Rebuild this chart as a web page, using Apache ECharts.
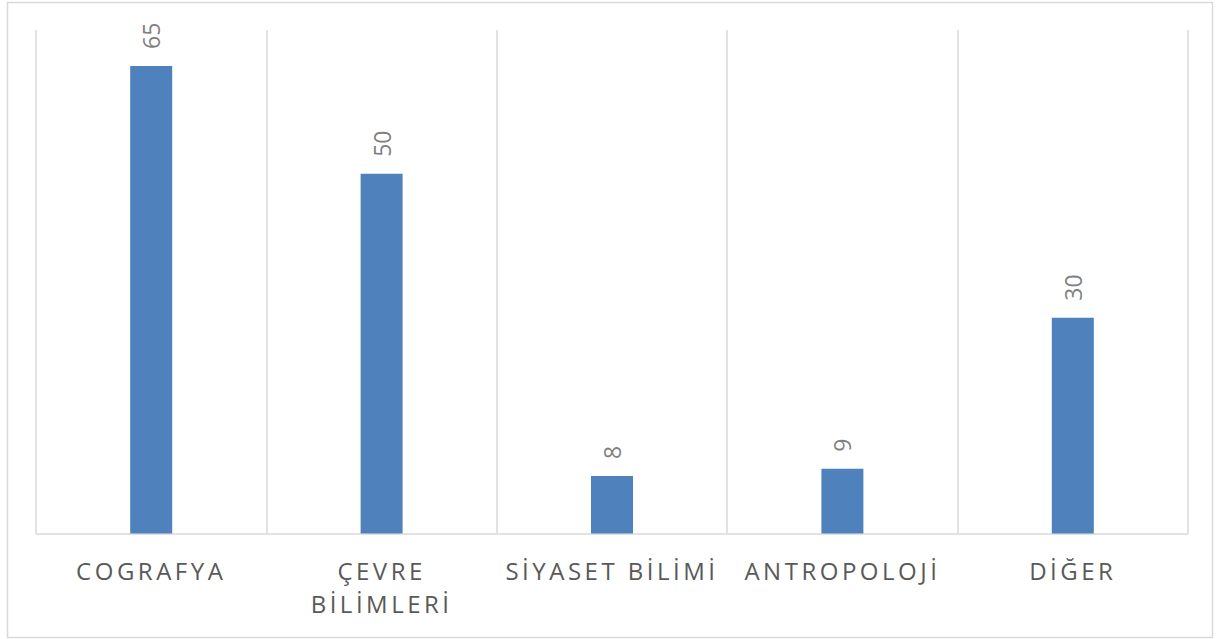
<!DOCTYPE html>
<html>
<head>
<meta charset="utf-8">
<script src="https://cdn.jsdelivr.net/npm/echarts@6/dist/echarts.min.js"></script>
<style>
html,body{margin:0;padding:0;background:#fff;}
#chart{width:1217px;height:639px;}
#chart text[fill="#595959"]{letter-spacing:3.5px;}
</style>
</head>
<body>
<div id="chart"></div>
<script>
const categories = ['COGRAFYA', 'ÇEVRE BİLİMLERİ', 'SİYASET BİLİMİ', 'ANTROPOLOJİ', 'DİĞER'];
const values = [65, 50, 8, 9, 30];
const yMin = 0;
const yMax = 70;

const chart = echarts.init(document.getElementById('chart'), null, { renderer: 'svg' });
chart.setOption({
  animation: false,
  backgroundColor: '#ffffff',
  graphic: [{
    type: 'rect',
    shape: { x: 7.5, y: 2.5, width: 1205, height: 635 },
    style: { fill: 'none', stroke: '#d9d9d9', lineWidth: 1.5 },
    silent: true
  }],
  grid: { left: 36, right: 29, top: 30, bottom: 105.5 },
  xAxis: {
    type: 'category',
    data: categories,
    axisLine: { show: true, lineStyle: { color: '#d9d9d9', width: 1.5 } },
    axisTick: { show: false },
    splitLine: { show: true, lineStyle: { color: '#d9d9d9', width: 1.5 } },
    axisLabel: {
      interval: 0,
      margin: 20,
      color: '#595959',
      fontFamily: 'Open Sans',
      fontSize: 24,
      lineHeight: 33,
      formatter: function (v) { return v === 'ÇEVRE BİLİMLERİ' ? 'ÇEVRE\nBİLİMLERİ' : v; }
    }
  },
  yAxis: {
    type: 'value',
    min: yMin,
    max: yMax,
    show: false,
    splitLine: { show: false }
  },
  series: [{
    type: 'bar',
    data: values,
    barWidth: 42,
    itemStyle: { color: '#4f81bd' },
    label: {
      show: true,
      position: 'top',
      rotate: 90,
      align: 'left',
      verticalAlign: 'middle',
      distance: 17,
      color: '#7f7f7f',
      fontFamily: 'Open Sans',
      fontSize: 23
    }
  }]
});
</script>
</body>
</html>
